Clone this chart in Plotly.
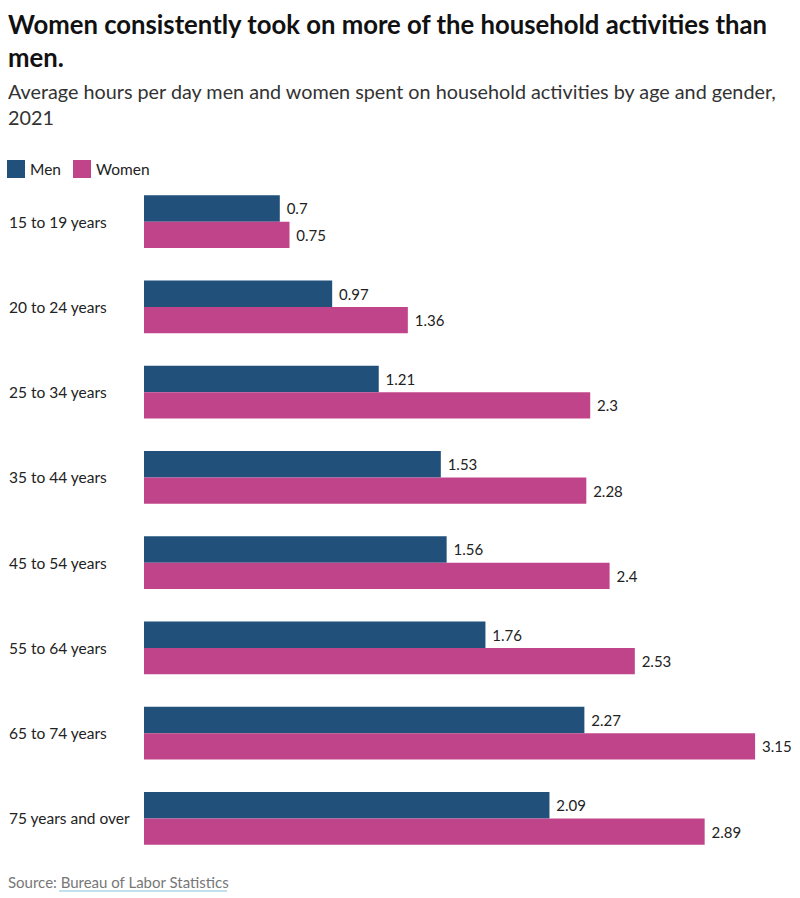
import plotly.graph_objects as go

categories = ["15 to 19 years", "20 to 24 years", "25 to 34 years", "35 to 44 years",
              "45 to 54 years", "55 to 64 years", "65 to 74 years", "75 years and over"]
men = [0.7, 0.97, 1.21, 1.53, 1.56, 1.76, 2.27, 2.09]
women = [0.75, 1.36, 2.3, 2.28, 2.4, 2.53, 3.15, 2.89]
series_names = ["Men", "Women"]
series_colors = ["#21507a", "#c0448a"]

FONT = "Source Sans Pro, Lato, Noto Sans, sans-serif"
W, H = 800, 898
L, R, T, B = 144, 8, 179, 37
pw, ph = W - L - R, H - T - B

def px_x(px):
    return (px - L) / pw

def px_y(py):
    return (H - B - py) / ph

fig = go.Figure()
for name, vals, col in zip(series_names, [men, women], series_colors):
    fig.add_trace(go.Bar(y=categories, x=vals, name=name, orientation="h",
                         marker=dict(color=col, line=dict(width=0)),
                         text=[f"\u00a0{v:g}" for v in vals], textposition="outside",
                         textfont=dict(size=15, color="#222", family=FONT), cliponaxis=False,
                         showlegend=False))

annotations = []
shapes = []
for c in categories:
    annotations.append(dict(x=px_x(7), xref="paper", y=c, yref="y", text=c,
                            showarrow=False, xanchor="left", yanchor="middle",
                            font=dict(size=15.5, color="#222", family=FONT)))

annotations.append(dict(x=px_x(6), xref="paper", y=px_y(7), yref="paper",
                        text="<b>Women consistently took on more of the household activities than<br>men.</b>",
                        showarrow=False, xanchor="left", yanchor="top", align="left",
                        font=dict(size=25.7, color="#111", family=FONT)))
annotations.append(dict(x=px_x(6), xref="paper", y=px_y(77), yref="paper",
                        text="Average hours per day men and women spent on household activities by age and gender,<br>2021",
                        showarrow=False, xanchor="left", yanchor="top", align="left",
                        font=dict(size=19.8, color="#333", family=FONT)))
annotations.append(dict(x=px_x(6), xref="paper", y=px_y(882), yref="paper",
                        text="Source: Bureau of Labor Statistics",
                        showarrow=False, xanchor="left", yanchor="middle", align="left",
                        font=dict(size=15, color="#777", family=FONT)))

# manual legend
leg_x = [7, 73]
for name, col, lx in zip(series_names, series_colors, leg_x):
    shapes.append(dict(type="rect", xref="paper", yref="paper",
                       x0=px_x(lx), x1=px_x(lx + 18), y0=px_y(178), y1=px_y(160),
                       fillcolor=col, line=dict(width=0)))
    annotations.append(dict(x=px_x(lx + 21), xref="paper", y=px_y(169), yref="paper",
                            text=name, showarrow=False, xanchor="left", yanchor="middle",
                            font=dict(size=15.5, color="#222", family=FONT)))

shapes.append(dict(type="line", xref="paper", yref="paper", x0=px_x(59), x1=px_x(227),
                   y0=px_y(891), y1=px_y(891), line=dict(color="#add8e6", width=1.5)))

fig.update_layout(
    width=W, height=H,
    margin=dict(l=L, r=R, t=T, b=B),
    paper_bgcolor="white", plot_bgcolor="white",
    barmode="group", bargap=0.383, bargroupgap=0,
    font=dict(family=FONT, color="#222"),
    xaxis=dict(range=[0, pw / 194.0], visible=False),
    yaxis=dict(autorange="reversed", showticklabels=False, showgrid=False, zeroline=False),
    showlegend=False,
    annotations=annotations,
    shapes=shapes,
)

fig.write_html("out.html")
